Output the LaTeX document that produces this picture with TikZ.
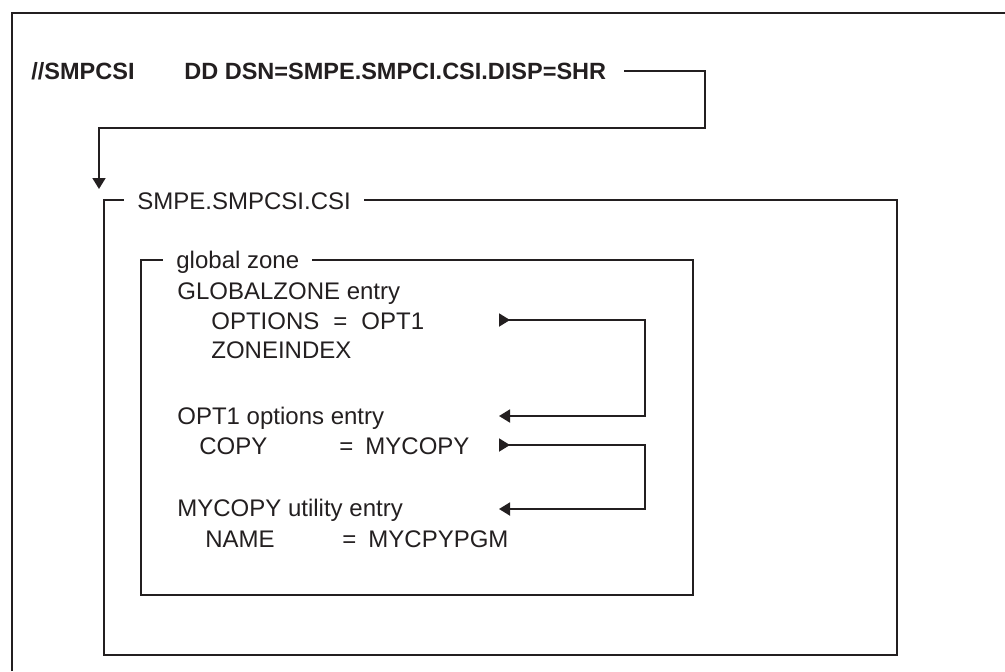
\documentclass[tikz,border=0pt]{standalone}
\usepackage{fontspec}
\setmainfont{Liberation Sans}
\usetikzlibrary{arrows.meta,positioning}
\definecolor{CsiInk}{HTML}{231F20}
\tikzset{
  frameline/.style={draw=CsiInk,line width=0.9pt},
  jcltext/.style={font=\bfseries\fontsize{11.75}{14}\selectfont,anchor=base west,inner sep=0pt,text=CsiInk},
  entrytext/.style={font=\fontsize{12}{14}\selectfont,anchor=base west,inner sep=0pt,text=CsiInk},
  boxtitle/.style={entrytext,fill=white,inner xsep=6.5pt,inner ysep=1pt},
  linkline/.style={draw=CsiInk,line width=0.9pt,-{Triangle[length=5.5pt,width=6.5pt]}},
  backlink/.style={linkline,{Triangle[reversed,length=5.5pt,width=6.5pt]}-{Triangle[length=5.5pt,width=6.5pt]}}
}

\begin{document}
\begin{tikzpicture}[x=0.5pt,y=-0.5pt]
  \useasboundingbox (0,0) rectangle (1005,671);
  % page frame, cut off on the right and at the bottom
  \draw[frameline] (12,671) -- (12,13) -- (1005,13);

  % the DD statement
  \node[jcltext] (ddname) at (31,79) {//SMPCSI};
  \node[jcltext] (ddline) at (184,79) {DD DSN=SMPE.SMPCI.CSI.DISP=SHR};
  \coordinate (jclout) at (624,71);
  \coordinate (csiarrow) at (99,189);
  \draw[linkline] (jclout) -- ++(81,0) -- ++(0,57) -| (csiarrow);

  % the CSI data set and its global zone
  \draw[frameline] (104,200) rectangle (897,655);
  \node[boxtitle] (csititle) at (124,209) {SMPE.SMPCSI.CSI};
  \draw[frameline] (141,260) rectangle (693,595);
  \node[boxtitle] (zonetitle) at (163,268) {global zone\hspace{6pt}};

  \node[entrytext] (gzentry) at (177,299) {GLOBALZONE entry};
  \node[entrytext] (gzopts) at (211,329) {OPTIONS\hspace{7pt}=\hspace{7pt}OPT1};
  \node[entrytext] (gzindex) at (211,358) {ZONEINDEX};
  \node[entrytext] (optentry) at (177,424) {OPT1 options entry};
  \node[entrytext] (optcopy) at (199,454) {COPY};
  \node[entrytext] (optcopyval) at (339,454) {=\hspace{6pt}MYCOPY};
  \node[entrytext] (utlentry) at (177,516) {MYCOPY utility entry};
  \node[entrytext] (utlname) at (205,547) {NAME};
  \node[entrytext] (utlnameval) at (342,547) {=\hspace{6pt}MYCPYPGM};

  % pointers between the entries
  \coordinate (optsout) at (499,320);
  \coordinate (optsin) at (499,416);
  \coordinate (copyout) at (499,445);
  \coordinate (copyin) at (499,509);
  \draw[backlink] (optsout) -- ++(146,0) |- (optsin);
  \draw[backlink] (copyout) -- ++(146,0) |- (copyin);
\end{tikzpicture}
\end{document}
